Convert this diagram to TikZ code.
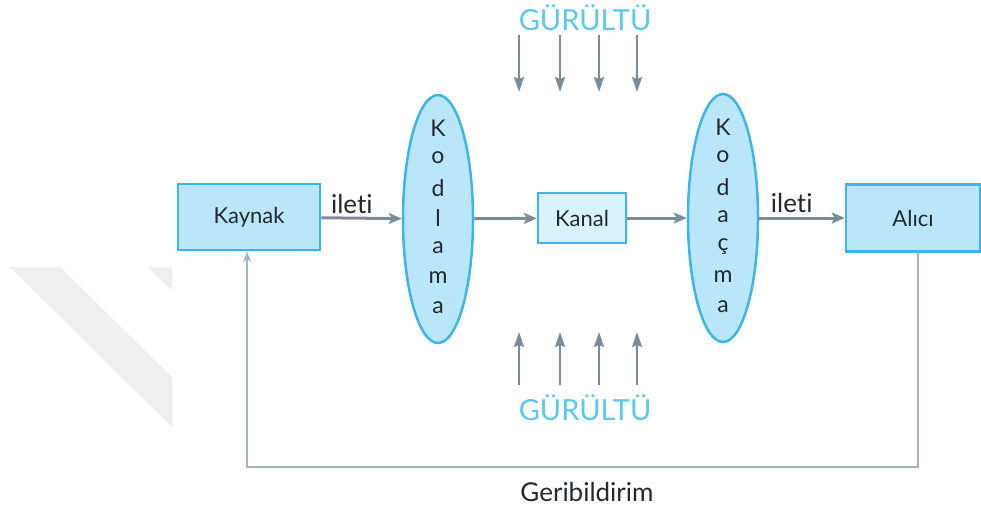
\documentclass[tikz,border=0pt]{standalone}
\usepackage{fontspec}
\setmainfont{Lato}[Ligatures=NoCommon]
\usetikzlibrary{arrows.meta,shapes.geometric}

\definecolor{boxfill}{HTML}{B9E7F9}
\definecolor{kanalfill}{HTML}{D9F2FC}
\definecolor{boxline}{HTML}{3DB4EA}
\definecolor{arrgray}{HTML}{7B8D99}
\definecolor{fbgray}{HTML}{A3B4C0}
\definecolor{noise}{HTML}{5BC8F2}
\definecolor{ink}{HTML}{23292E}
\definecolor{wmgray}{HTML}{EFEFEF}

\tikzset{
 box/.style={draw=boxline, line width=2.5pt, fill=boxfill, text=ink, font=\fontsize{22}{26}\selectfont},
 oval/.style={ellipse, draw=boxline, line width=2.5pt, fill=boxfill, minimum width=70pt, minimum height=248pt, inner sep=0pt},
 letter/.style={text=ink, font=\fontsize{23}{26}\selectfont},
 flow/.style={arrgray, line width=3pt, -{Stealth[length=13pt,width=11pt,inset=3pt]}},
 hum/.style={arrgray, line width=1.8pt, -{Stealth[length=15pt,width=10pt,inset=2pt]}},
 hum label/.style={text=noise, font=\fontsize{29}{33}\selectfont},
 tag/.style={text=ink, font=\fontsize{26}{30}\selectfont}
}

\begin{document}
\begin{tikzpicture}[x=1pt,y=-1pt]
\useasboundingbox (0,0) rectangle (981,512);

% faint mark at the left
\fill[wmgray] (10,267) -- (60,267) -- (172,377) -- (172,427) -- cycle;
\fill[wmgray] (147,267) -- (172,267) -- (172,290) -- cycle;

\node[box, minimum width=142pt, minimum height=66pt] (kaynak) at (249,217) {Kaynak};
\node[oval] (kod) at (438,219) {};
\node[box, fill=kanalfill, minimum width=88pt, minimum height=50pt] (kanal) at (582,218) {Kanal};
\node[oval] (dekod) at (723,218) {};
\node[box, minimum width=134pt, minimum height=67pt] (alici) at (913,218) {Al\i c\i};

\foreach \c [count=\i] in {K,o,d,l,a,m,a}
 \node[letter] (kod\i) at (438,98+30*\i) {\c};
\foreach \c [count=\i] in {K,o,d,a,ç,m,a}
 \node[letter] (dekod\i) at (723,97+30*\i) {\c};

\draw[flow] (kaynak) -- node[tag, pos=0.38, above=0pt] (ileti1) {ileti} (kod);
\draw[flow] (kod) -- (kanal);
\draw[flow] (kanal) -- (dekod);
\draw[flow] (dekod) -- node[tag, pos=0.38, above=0pt] (ileti2) {ileti} (alici);

% noise from above and below
\node[hum label] (humtop) at (585,18) {GÜRÜLTÜ};
\node[hum label] (humbot) at (585,408) {GÜRÜLTÜ};
\foreach \x [count=\i] in {519,560,599,637} {
 \coordinate (t\i) at (\x,35);
 \coordinate (u\i) at (\x,385);
 \draw[hum] (t\i) -- (\x,92);
 \draw[hum] (u\i) -- (\x,332);
}

% feedback
\coordinate (fb1) at (918,467);
\coordinate (fb2) at (247,467);
\draw[fbgray, line width=1.5pt, -{Stealth[length=11pt,width=8pt]}]
 (alici.south -| fb1) -- (fb1) -- (fb2) -- (kaynak.south -| fb2);
\node[tag] (geri) at (587,492) {Geribildirim};

\end{tikzpicture}
\end{document}
